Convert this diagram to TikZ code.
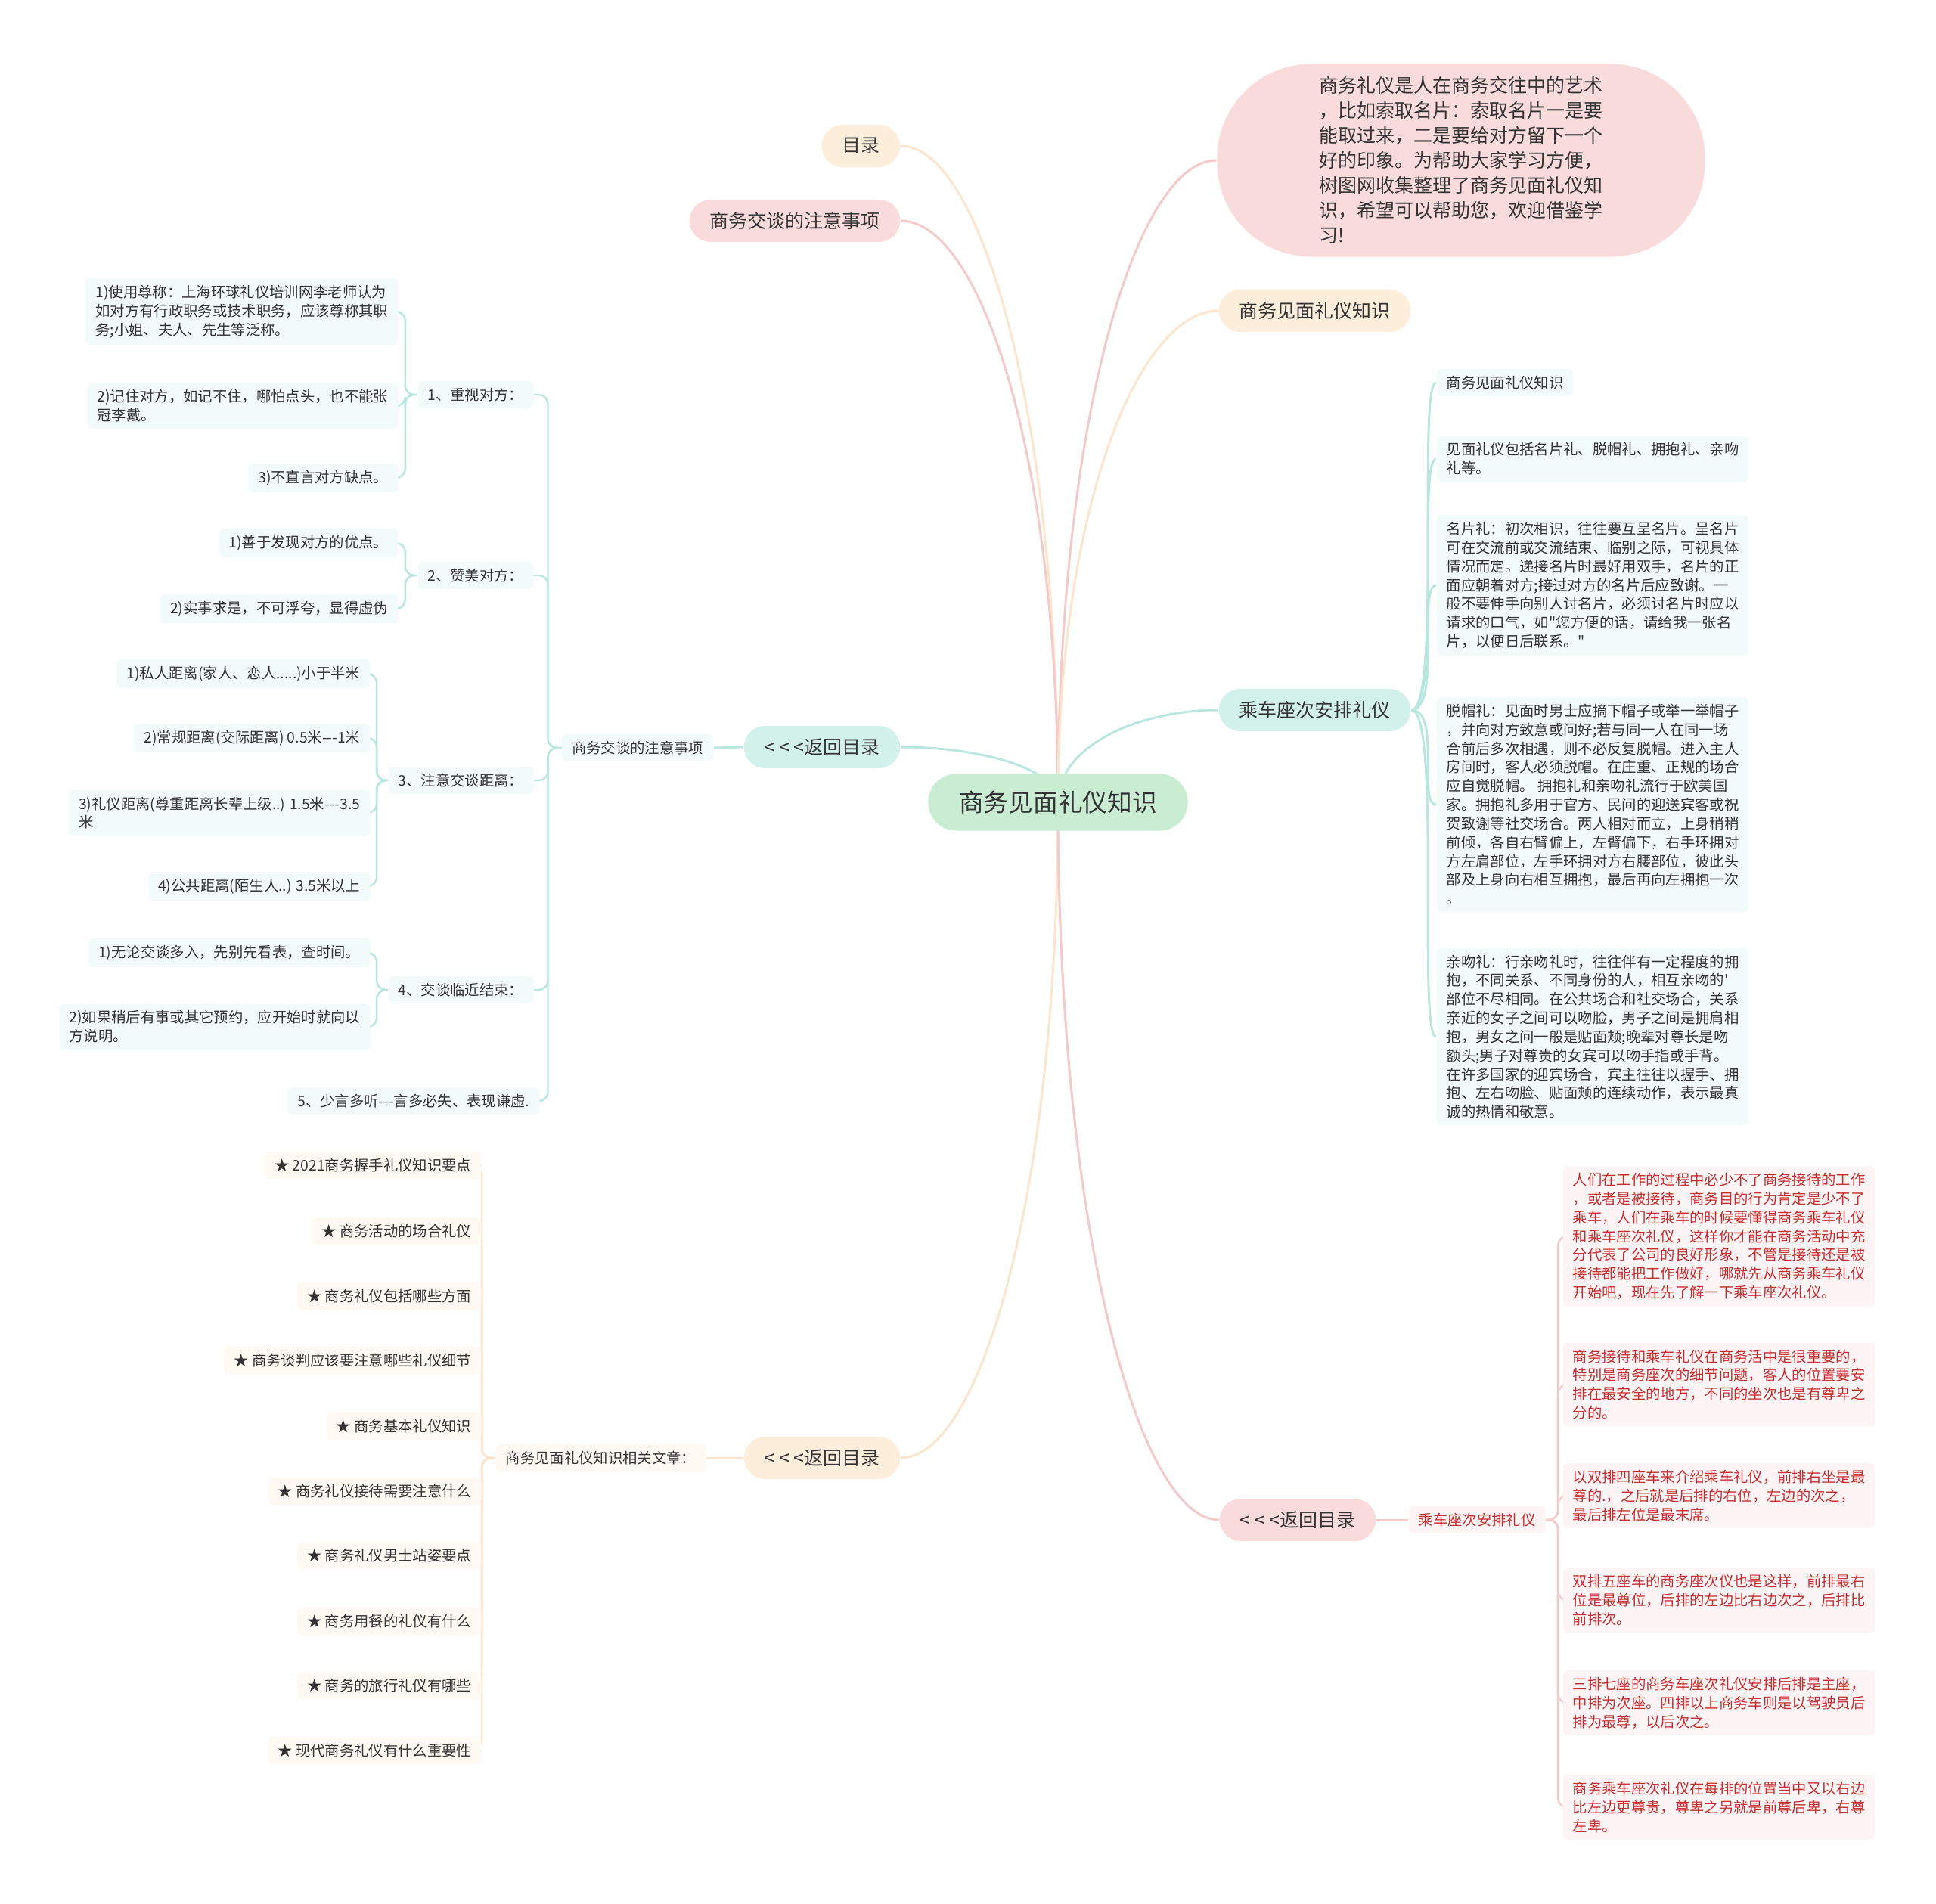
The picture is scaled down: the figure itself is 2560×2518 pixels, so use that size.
\documentclass[tikz,border=0pt]{standalone}
\usepackage{fontspec}
\setmainfont{Noto Sans CJK SC}[Ligatures=TeXOff]
\usetikzlibrary{backgrounds}

\definecolor{rootfill}{HTML}{C9ECD3}
\definecolor{tealfill}{HTML}{D3F1EB}
\definecolor{pinkfill}{HTML}{FADBDB}
\definecolor{peachfill}{HTML}{FDEEDC}
\definecolor{tealleaf}{HTML}{F3FBFA}
\definecolor{pinkleaf}{HTML}{FDF5F5}
\definecolor{peachleaf}{HTML}{FEF9F3}
\definecolor{tealline}{HTML}{B9E6DE}
\definecolor{pinkline}{HTML}{F3C9C9}
\definecolor{peachline}{HTML}{FBE5CC}
\definecolor{inktext}{HTML}{333333}
\definecolor{redtext}{HTML}{C62F32}

\newcommand{\rootfont}{\fontsize{9.3}{11}\selectfont}
\newcommand{\topicfont}{\fontsize{7.1}{9.4}\selectfont}
\newcommand{\leaffont}{\fontsize{5.5}{7.06}\selectfont}

\begin{document}
\begin{tikzpicture}[x=0.01cm, y=-0.01cm,
    rootnode/.style={rectangle, rounded corners=0.37cm, fill=rootfill, text=inktext, font=\rootfont, minimum width=3.43cm, minimum height=0.75cm, inner sep=0pt},
    topicnode/.style={rectangle, rounded corners=0.28cm, minimum height=0.56cm, inner xsep=0.27cm, inner ysep=0pt, text=inktext, font=\topicfont},
    leafnode/.style={rectangle, rounded corners=0.06cm, inner xsep=0.13cm, inner ysep=0.09cm, align=left, text=inktext, font=\leaffont},
    wire/.style={line width=0.85pt},
    branchwire/.style={line width=0.7pt, rounded corners=0.12cm}]
\useasboundingbox (0,0) rectangle (2560,2518);

	% Paths, nodes and wires:
	\node[rootnode] (root) at (1399,1061) {商务见面礼仪知识};

	% left side, first level
	\node[topicnode, fill=peachfill, anchor=east] (mulu) at (1191,193) {目录};
	\node[topicnode, fill=pinkfill, anchor=east] (talkhead) at (1191,292) {商务交谈的注意事项};
	\node[topicnode, fill=tealfill, anchor=east] (back1) at (1191,988) {< < <返回目录};
	\node[topicnode, fill=peachfill, anchor=east] (back2) at (1191,1928) {< < <返回目录};

	% right side, first level
	\node[rectangle, rounded corners=1.25cm, fill=pinkfill, minimum width=6.45cm, minimum height=2.55cm, align=left, text=inktext, font=\topicfont] (intro) at (1932,212) {商务礼仪是人在商务交往中的艺术\\，比如索取名片：索取名片一是要\\能取过来，二是要给对方留下一个\\好的印象。为帮助大家学习方便，\\树图网收集整理了商务见面礼仪知\\识，希望可以帮助您，欢迎借鉴学\\习!};
	\node[topicnode, fill=peachfill, anchor=west] (meet) at (1611,411) {商务见面礼仪知识};
	\node[topicnode, fill=tealfill, anchor=west] (ride) at (1611,939) {乘车座次安排礼仪};
	\node[topicnode, fill=pinkfill, anchor=west] (back3) at (1612,2010) {< < <返回目录};

	% talk branch
	\node[leafnode, fill=tealleaf, anchor=east] (talk) at (944,989) {商务交谈的注意事项};
	\node[leafnode, fill=tealleaf, anchor=east] (k1) at (706,522) {1、重视对方：};
	\node[leafnode, fill=tealleaf, anchor=east] (k2) at (706,761) {2、赞美对方：};
	\node[leafnode, fill=tealleaf, anchor=east] (k3) at (706,1032) {3、注意交谈距离：};
	\node[leafnode, fill=tealleaf, anchor=east] (k4) at (706,1309) {4、交谈临近结束：};
	\node[leafnode, fill=tealleaf, anchor=east] (k5) at (714,1456) {5、少言多听-{}-{}-言多必失、表现谦虚.};

	\node[leafnode, fill=tealleaf, anchor=east] (a1) at (527,412) {1)使用尊称：上海环球礼仪培训网李老师认为\\如对方有行政职务或技术职务，应该尊称其职\\务;小姐、夫人、先生等泛称。};
	\node[leafnode, fill=tealleaf, anchor=east] (a2) at (527,537) {2)记住对方，如记不住，哪怕点头，也不能张\\冠李戴。};
	\node[leafnode, fill=tealleaf, anchor=east] (a3) at (527,632) {3)不直言对方缺点。};
	\node[leafnode, fill=tealleaf, anchor=east] (b1) at (527,718) {1)善于发现对方的优点。};
	\node[leafnode, fill=tealleaf, anchor=east] (b2) at (527,805) {2)实事求是，不可浮夸，显得虚伪};
	\node[leafnode, fill=tealleaf, anchor=east] (d1) at (490,891) {1)私人距离(家人、恋人.....)小于半米};
	\node[leafnode, fill=tealleaf, anchor=east] (d2) at (490,976) {2)常规距离(交际距离) 0.5米-{}-{}-1米};
	\node[leafnode, fill=tealleaf, anchor=east] (d3) at (490,1075) {3)礼仪距离(尊重距离长辈上级..) 1.5米-{}-{}-3.5\\米};
	\node[leafnode, fill=tealleaf, anchor=east] (d4) at (490,1172) {4)公共距离(陌生人..) 3.5米以上};
	\node[leafnode, fill=tealleaf, anchor=east] (e1) at (490,1260) {1)无论交谈多入，先别先看表，查时间。};
	\node[leafnode, fill=tealleaf, anchor=east] (e2) at (490,1358) {2)如果稍后有事或其它预约，应开始时就向以\\方说明。};

	% related articles branch
	\node[leafnode, fill=peachleaf, anchor=east] (related) at (934,1928) {商务见面礼仪知识相关文章：};
	\node[leafnode, fill=peachleaf, anchor=east] (s1) at (637,1541) {★ 2021商务握手礼仪知识要点};
	\node[leafnode, fill=peachleaf, anchor=east] (s2) at (637,1628) {★ 商务活动的场合礼仪};
	\node[leafnode, fill=peachleaf, anchor=east] (s3) at (637,1714) {★ 商务礼仪包括哪些方面};
	\node[leafnode, fill=peachleaf, anchor=east] (s4) at (637,1799) {★ 商务谈判应该要注意哪些礼仪细节};
	\node[leafnode, fill=peachleaf, anchor=east] (s5) at (637,1886) {★ 商务基本礼仪知识};
	\node[leafnode, fill=peachleaf, anchor=east] (s6) at (637,1972) {★ 商务礼仪接待需要注意什么};
	\node[leafnode, fill=peachleaf, anchor=east] (s7) at (637,2057) {★ 商务礼仪男士站姿要点};
	\node[leafnode, fill=peachleaf, anchor=east] (s8) at (637,2144) {★ 商务用餐的礼仪有什么};
	\node[leafnode, fill=peachleaf, anchor=east] (s9) at (637,2229) {★ 商务的旅行礼仪有哪些};
	\node[leafnode, fill=peachleaf, anchor=east] (s10) at (637,2315) {★ 现代商务礼仪有什么重要性};

	% ride branch
	\node[leafnode, fill=tealleaf, anchor=west] (m0) at (1899,506) {商务见面礼仪知识};
	\node[leafnode, fill=tealleaf, anchor=west] (m1) at (1899,607) {见面礼仪包括名片礼、脱帽礼、拥抱礼、亲吻\\礼等。};
	\node[leafnode, fill=tealleaf, anchor=west] (m2) at (1899,774) {名片礼：初次相识，往往要互呈名片。呈名片\\可在交流前或交流结束、临别之际，可视具体\\情况而定。递接名片时最好用双手，名片的正\\面应朝着对方;接过对方的名片后应致谢。一\\般不要伸手向别人讨名片，必须讨名片时应以\\请求的口气，如"您方便的话，请给我一张名\\片，以便日后联系。"};
	\node[leafnode, fill=tealleaf, anchor=west] (m3) at (1899,1064) {脱帽礼：见面时男士应摘下帽子或举一举帽子\\，并向对方致意或问好;若与同一人在同一场\\合前后多次相遇，则不必反复脱帽。进入主人\\房间时，客人必须脱帽。在庄重、正规的场合\\应自觉脱帽。 拥抱礼和亲吻礼流行于欧美国\\家。拥抱礼多用于官方、民间的迎送宾客或祝\\贺致谢等社交场合。两人相对而立，上身稍稍\\前倾，各自右臂偏上，左臂偏下，右手环拥对\\方左肩部位，左手环拥对方右腰部位，彼此头\\部及上身向右相互拥抱，最后再向左拥抱一次\\。};
	\node[leafnode, fill=tealleaf, anchor=west] (m4) at (1899,1371) {亲吻礼：行亲吻礼时，往往伴有一定程度的拥\\抱，不同关系、不同身份的人，相互亲吻的'\\部位不尽相同。在公共场合和社交场合，关系\\亲近的女子之间可以吻脸，男子之间是拥肩相\\抱，男女之间一般是贴面颊;晚辈对尊长是吻\\额头;男子对尊贵的女宾可以吻手指或手背。\\在许多国家的迎宾场合，宾主往往以握手、拥\\抱、左右吻脸、贴面颊的连续动作，表示最真\\诚的热情和敬意。};

	% seat branch
	\node[leafnode, fill=pinkleaf, text=redtext, anchor=west] (seat) at (1862,2010) {乘车座次安排礼仪};
	\node[leafnode, fill=pinkleaf, text=redtext, anchor=west] (c1) at (2066,1635) {人们在工作的过程中必少不了商务接待的工作\\，或者是被接待，商务目的行为肯定是少不了\\乘车，人们在乘车的时候要懂得商务乘车礼仪\\和乘车座次礼仪，这样你才能在商务活动中充\\分代表了公司的良好形象，不管是接待还是被\\接待都能把工作做好，哪就先从商务乘车礼仪\\开始吧，现在先了解一下乘车座次礼仪。};
	\node[leafnode, fill=pinkleaf, text=redtext, anchor=west] (c2) at (2066,1831) {商务接待和乘车礼仪在商务活中是很重要的，\\特别是商务座次的细节问题，客人的位置要安\\排在最安全的地方，不同的坐次也是有尊卑之\\分的。};
	\node[leafnode, fill=pinkleaf, text=redtext, anchor=west] (c3) at (2066,1978) {以双排四座车来介绍乘车礼仪，前排右坐是最\\尊的.，之后就是后排的右位，左边的次之，\\最后排左位是最末席。};
	\node[leafnode, fill=pinkleaf, text=redtext, anchor=west] (c4) at (2066,2116) {双排五座车的商务座次仪也是这样，前排最右\\位是最尊位，后排的左边比右边次之，后排比\\前排次。};
	\node[leafnode, fill=pinkleaf, text=redtext, anchor=west] (c5) at (2066,2252) {三排七座的商务车座次礼仪安排后排是主座，\\中排为次座。四排以上商务车则是以驾驶员后\\排为最尊，以后次之。};
	\node[leafnode, fill=pinkleaf, text=redtext, anchor=west] (c6) at (2066,2390) {商务乘车座次礼仪在每排的位置当中又以右边\\比左边更尊贵，尊卑之另就是前尊后卑，右尊\\左卑。};

	\begin{scope}[on background layer]
	% root to first level
	\draw[wire, peachline] (root.center) .. controls +(0,-520) and +(105,0) .. (mulu.east);
	\draw[wire, pinkline] (root.center) .. controls +(0,-460) and +(105,0) .. (talkhead.east);
	\draw[wire, tealline] (root.center) .. controls +(0,-45) and +(105,0) .. (back1.east);
	\draw[wire, peachline] (root.center) .. controls +(0,520) and +(105,0) .. (back2.east);
	\draw[wire, pinkline] (root.center) .. controls +(0,-510) and +(-105,0) .. (intro.west);
	\draw[wire, peachline] (root.center) .. controls +(0,-390) and +(-105,0) .. (meet.west);
	\draw[wire, tealline] (root.center) .. controls +(0,-75) and +(-105,0) .. (ride.west);
	\draw[wire, pinkline] (root.center) .. controls +(0,570) and +(-105,0) .. (back3.west);

	% talk branch
	\draw[wire, tealline] (back1.west) -- (talk.east);
	\draw[branchwire, tealline] (talk.west) -- ++(-18,0) |- (k1.east);
	\draw[branchwire, tealline] (talk.west) -- ++(-18,0) |- (k2.east);
	\draw[branchwire, tealline] (talk.west) -- ++(-18,0) |- (k3.east);
	\draw[branchwire, tealline] (talk.west) -- ++(-18,0) |- (k4.east);
	\draw[branchwire, tealline] (talk.west) -- ++(-18,0) |- (k5.east);
	\draw[branchwire, tealline] (k1.west) -- ++(-16,0) |- (a1.east);
	\draw[branchwire, tealline] (k1.west) -- ++(-16,0) |- (a2.east);
	\draw[branchwire, tealline] (k1.west) -- ++(-16,0) |- (a3.east);
	\draw[branchwire, tealline] (k2.west) -- ++(-16,0) |- (b1.east);
	\draw[branchwire, tealline] (k2.west) -- ++(-16,0) |- (b2.east);
	\draw[branchwire, tealline] (k3.west) -- ++(-15,0) |- (d1.east);
	\draw[branchwire, tealline] (k3.west) -- ++(-15,0) |- (d2.east);
	\draw[branchwire, tealline] (k3.west) -- ++(-15,0) |- (d3.east);
	\draw[branchwire, tealline] (k3.west) -- ++(-15,0) |- (d4.east);
	\draw[branchwire, tealline] (k4.west) -- ++(-15,0) |- (e1.east);
	\draw[branchwire, tealline] (k4.west) -- ++(-15,0) |- (e2.east);

	% related articles
	\draw[wire, peachline] (back2.west) -- (related.east);
	\draw[branchwire, peachline] (related.west) -- ++(-18,0) |- (s1.east);
	\draw[branchwire, peachline] (related.west) -- ++(-18,0) |- (s2.east);
	\draw[branchwire, peachline] (related.west) -- ++(-18,0) |- (s3.east);
	\draw[branchwire, peachline] (related.west) -- ++(-18,0) |- (s4.east);
	\draw[branchwire, peachline] (related.west) -- ++(-18,0) |- (s5.east);
	\draw[branchwire, peachline] (related.west) -- ++(-18,0) |- (s6.east);
	\draw[branchwire, peachline] (related.west) -- ++(-18,0) |- (s7.east);
	\draw[branchwire, peachline] (related.west) -- ++(-18,0) |- (s8.east);
	\draw[branchwire, peachline] (related.west) -- ++(-18,0) |- (s9.east);
	\draw[branchwire, peachline] (related.west) -- ++(-18,0) |- (s10.east);

	% ride branch
	\draw[wire, tealline] (ride.east) .. controls +(40,0) and +(-25,0) .. (m0.west);
	\draw[wire, tealline] (ride.east) .. controls +(40,0) and +(-25,0) .. (m1.west);
	\draw[wire, tealline] (ride.east) .. controls +(40,0) and +(-25,0) .. (m2.west);
	\draw[wire, tealline] (ride.east) .. controls +(40,0) and +(-25,0) .. (m3.west);
	\draw[wire, tealline] (ride.east) .. controls +(40,0) and +(-25,0) .. (m4.west);

	% seat branch
	\draw[wire, pinkline] (back3.east) -- (seat.west);
	\draw[branchwire, pinkline] (seat.east) -- ++(16,0) |- (c1.west);
	\draw[branchwire, pinkline] (seat.east) -- ++(16,0) |- (c2.west);
	\draw[branchwire, pinkline] (seat.east) -- ++(16,0) |- (c3.west);
	\draw[branchwire, pinkline] (seat.east) -- ++(16,0) |- (c4.west);
	\draw[branchwire, pinkline] (seat.east) -- ++(16,0) |- (c5.west);
	\draw[branchwire, pinkline] (seat.east) -- ++(16,0) |- (c6.west);
	\end{scope}
\end{tikzpicture}
\end{document}
